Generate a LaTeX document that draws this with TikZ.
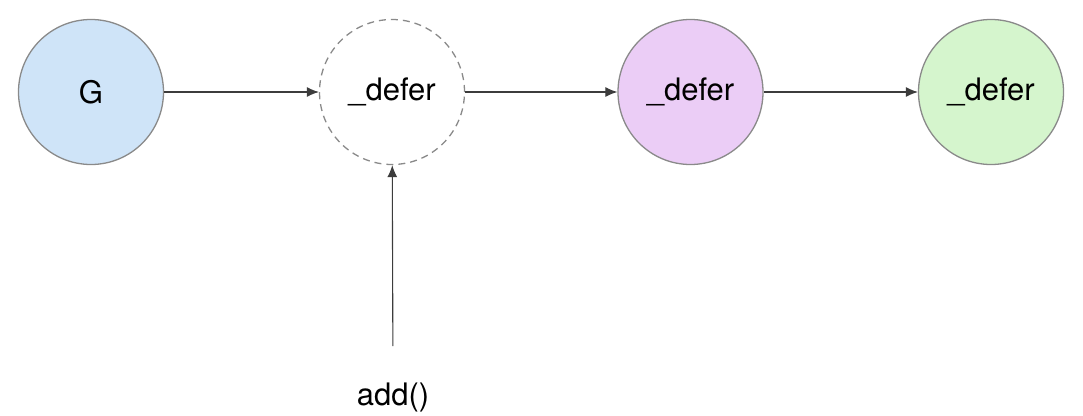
\documentclass[tikz,border=0pt]{standalone}
\usepackage{fontspec}
\setmainfont{TeX Gyre Heros}
\usetikzlibrary{arrows.meta, positioning}
\definecolor{rim}{HTML}{8A8A8A}
\definecolor{wire}{HTML}{3C3C3C}
\definecolor{gblue}{HTML}{CFE4F8}
\definecolor{dpurple}{HTML}{EBCDF6}
\definecolor{dgreen}{HTML}{D5F5CD}

\begin{document}
\begin{tikzpicture}[x=1pt, y=-1pt,
    ball/.style={circle, draw=rim, line width=1.3pt, minimum size=145pt,
      inner sep=0pt, font=\fontsize{31}{36}\selectfont},
    ghost/.style={ball, dash pattern=on 7pt off 5pt},
    lbl/.style={font=\fontsize{31}{36}\selectfont, inner sep=0pt},
    flow/.style={wire, line width=1.1pt, -{Latex[length=12pt, width=10pt]}}]
  \useasboundingbox (0,0) rectangle (1083,415);
  % goroutine and its chain of deferred calls
  \node[ball, fill=gblue] (g) at (91,92) {G};
  \node[ghost] (d0) at (392,92) {\_defer};
  \node[ball, fill=dpurple] (d1) at (690.5,92) {\_defer};
  \node[ball, fill=dgreen] (d2) at (991,92) {\_defer};
  \node[lbl] (add) at (393,397) {add()};
  % links
  \draw[flow] (g) -- (d0);
  \draw[flow] (d0) -- (d1);
  \draw[flow] (d1) -- (d2);
  \draw[flow, shorten <=36pt] (add.north) -- (d0);
\end{tikzpicture}
\end{document}
